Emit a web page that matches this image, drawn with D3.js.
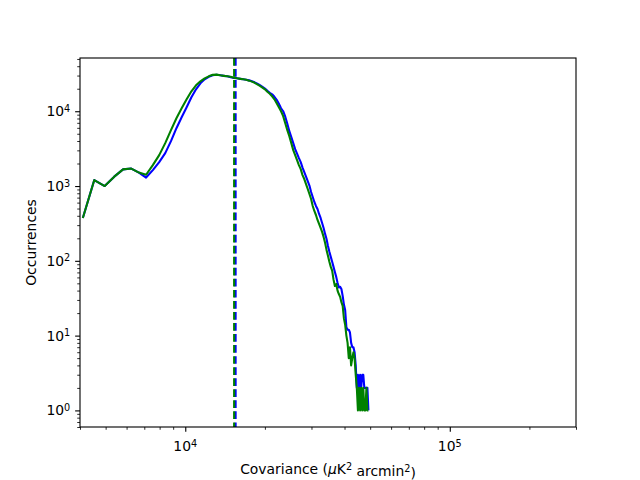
<!DOCTYPE html>
<html>
<head>
<meta charset="utf-8">
<script src="https://cdn.jsdelivr.net/npm/d3@7"></script>
<style>
body { margin: 0; background: #fff; }
text { font-family: "DejaVu Sans", sans-serif; fill: #000; }
</style>
</head>
<body>
<script>
// histogram bin centres (covariance) and the two sets of counts
var binCenters = [4100, 4530, 4960, 5390, 5820, 6250, 6680, 7110, 7540, 7970,
                  8400, 8830, 9260, 9690, 10120, 10550, 10980, 11410, 11840, 12270,
                  12700, 13130, 13560, 13990, 14420, 14850, 15280, 15710, 16140, 16570,
                  17000, 17430, 17860, 18290, 18720, 19150, 19580, 20010, 20440, 20870,
                  21300, 21730, 22160, 22590, 23020, 23450, 23880, 24310, 24740, 25170,
                  25600, 26030, 26460, 26890, 27320, 27750, 28180, 28610, 29040, 29470,
                  29900, 30330, 30760, 31190, 31620, 32050, 32480, 32910, 33340, 33770,
                  34200, 34630, 35060, 35490, 35920, 36350, 36780, 37210, 37640, 38070,
                  38500, 38930, 39360, 39790, 40220, 40650, 41080, 41510, 41940, 42370,
                  42800, 43230, 43660, 44090, 44520, 44950, 45380, 45810, 46240, 46670,
                  47100, 47530, 47960, 48390, 48820, 49250];

var countsBlue = [374, 1202, 1000, 1334, 1671, 1711, 1514, 1298, 1634, 2090,
                  2754, 3980, 5930, 8320, 11300, 15380, 19630, 23620, 26710, 28840,
                  30200, 30670, 30200, 29720, 29300, 28510, 27860, 27540, 27100, 26710,
                  26300, 25880, 25120, 24360, 23400, 22340, 21210, 20090, 18760, 17650,
                  16860, 15600, 14230, 12590, 10970, 10000, 8450, 6810, 5410, 4500,
                  3745, 3113, 2712, 2360, 2090, 1764, 1538, 1338, 1166, 1016,
                  832, 713, 612, 541, 494, 423, 374, 321, 275, 229,
                  196, 158, 132, 113, 97, 83, 71, 61, 51, 44,
                  45, 42, 34, 26, 22, 13, 12, 12, 11, 8,
                  7, 7, 6, 4, 2, 3, 2, 3, 2, 3,
                  3, 2, 2, 2, 2, 1];

var countsGreen = [374, 1202, 1000, 1334, 1671, 1711, 1514, 1416, 1905, 2590,
                   3745, 5580, 8070, 10970, 14450, 18480, 22220, 25120, 27540, 29300,
                   30670, 30860, 30200, 29720, 29300, 28840, 28130, 27540, 27100, 26710,
                   26300, 25650, 24890, 23990, 22910, 21880, 20700, 19630, 18200, 17100,
                   15850, 14450, 12790, 11300, 10000, 8580, 6920, 5580, 4640, 3745,
                   3020, 2590, 2220, 1905, 1685, 1400, 1240, 1063, 912, 782,
                   671, 541, 464, 410, 352, 311, 275, 244, 209, 174,
                   140, 117, 97, 83, 74, 56, 46, 49, 40, 36,
                   33, 28, 25, 17, 14, 10, 8, 5, 7, 4,
                   5, 6, 5, 3, 2, 1, 2, 1, 2, 1,
                   2, 1, 1, 2, 1, 1];

// vertical dashed markers
var markerBlue  = 15500;
var markerGreen = 15300;

var xMajorTicks = [1e4, 1e5];
var xMajorExp   = ['4', '5'];
var yMajorTicks = [1, 10, 100, 1000, 10000];
var yMajorExp   = ['0', '1', '2', '3', '4'];

var WIDTH  = 640;
var HEIGHT = 480;
var LEFT = 80, RIGHT = 576, TOP = 58, BOTTOM = 427;
var PT = 100 / 72;   // matplotlib points -> px at 100 dpi

var svg = d3.select('body')
            .append('svg')
            .attr('width', WIDTH)
            .attr('height', HEIGHT);

var x = d3.scaleLog()
          .domain([4000, 300000])
          .range([LEFT, RIGHT]);

var y = d3.scaleLog()
          .domain([0.6, 51500])
          .range([BOTTOM, TOP]);

var xMinor = x.ticks().filter(function(v) { return xMajorTicks.indexOf(v) < 0; });
var yMinor = y.ticks().filter(function(v) { return yMajorTicks.indexOf(v) < 0; });

// curves
var line = d3.line()
             .x(function(d) { return x(d[0]); })
             .y(function(d) { return y(d[1]); });

function drawSeries(counts, color) {
    svg.append('path')
       .datum(d3.zip(binCenters, counts))
       .attr('d', line)
       .attr('fill', 'none')
       .attr('stroke', color)
       .attr('stroke-width', 1.5 * PT)
       .attr('stroke-linejoin', 'round');
}

drawSeries(countsBlue, '#0000ff');
drawSeries(countsGreen, '#008000');

function drawMarker(value, color) {
    svg.append('line')
       .attr('x1', x(value)).attr('x2', x(value))
       .attr('y1', TOP).attr('y2', BOTTOM)
       .attr('stroke', color)
       .attr('stroke-width', 1.5 * PT)
       .attr('stroke-dasharray', (5.55 * PT) + ',' + (2.4 * PT));
}

drawMarker(markerBlue, '#0000ff');
drawMarker(markerGreen, '#008000');

// axes
var xAxis = svg.append('g')
               .attr('transform', 'translate(0,' + BOTTOM + ')')
               .call(d3.axisBottom(x).tickValues(xMajorTicks).tickSize(3.5 * PT).tickFormat(''));
var xAxisMinor = svg.append('g')
               .attr('transform', 'translate(0,' + BOTTOM + ')')
               .call(d3.axisBottom(x).tickValues(xMinor).tickSize(2 * PT).tickFormat(''));

var yAxis = svg.append('g')
               .attr('transform', 'translate(' + LEFT + ',0)')
               .call(d3.axisLeft(y).tickValues(yMajorTicks).tickSize(3.5 * PT).tickFormat(''));
var yAxisMinor = svg.append('g')
               .attr('transform', 'translate(' + LEFT + ',0)')
               .call(d3.axisLeft(y).tickValues(yMinor).tickSize(2 * PT).tickFormat(''));

svg.selectAll('.domain').remove();
svg.selectAll('.tick line').attr('stroke', '#000').attr('stroke-width', 0.8 * PT);
xAxisMinor.selectAll('.tick line').attr('stroke-width', 0.6 * PT);
yAxisMinor.selectAll('.tick line').attr('stroke-width', 0.6 * PT);

svg.append('rect')
   .attr('x', LEFT).attr('y', TOP)
   .attr('width', RIGHT - LEFT).attr('height', BOTTOM - TOP)
   .attr('fill', 'none')
   .attr('stroke', '#000')
   .attr('stroke-width', 0.8 * PT);

// tick labels, 10 with a superscript
function powerLabel(sel, exp) {
    sel.append('tspan').text('10');
    sel.append('tspan').attr('dy', '-0.45em').attr('font-size', '9.7px').text(exp);
}

xMajorTicks.forEach(function(v, i) {
    var t = svg.append('text')
               .attr('x', x(v))
               .attr('y', BOTTOM + 24)
               .attr('text-anchor', 'middle')
               .attr('font-size', '13.9px');
    powerLabel(t, xMajorExp[i]);
});

yMajorTicks.forEach(function(v, i) {
    var t = svg.append('text')
               .attr('x', LEFT - 7 * PT)
               .attr('y', y(v) + 5)
               .attr('text-anchor', 'end')
               .attr('font-size', '13.9px');
    powerLabel(t, yMajorExp[i]);
});

// axis titles
var xt = svg.append('text')
            .attr('x', (LEFT + RIGHT) / 2)
            .attr('y', 474)
            .attr('text-anchor', 'middle')
            .attr('font-size', '13.9px');
xt.append('tspan').text('Covariance (');
xt.append('tspan').attr('font-style', 'italic').text('\u03bc');
xt.append('tspan').text('K');
xt.append('tspan').attr('dy', '-0.45em').attr('font-size', '9.7px').text('2');
xt.append('tspan').attr('dy', '0.45em').text(' arcmin');
xt.append('tspan').attr('dy', '-0.45em').attr('font-size', '9.7px').text('2');
xt.append('tspan').attr('dy', '0.45em').text(')');

svg.append('text')
   .attr('transform', 'translate(36,' + (TOP + BOTTOM) / 2 + ') rotate(-90)')
   .attr('text-anchor', 'middle')
   .attr('font-size', '13.9px')
   .text('Occurrences');
</script>
</body>
</html>
